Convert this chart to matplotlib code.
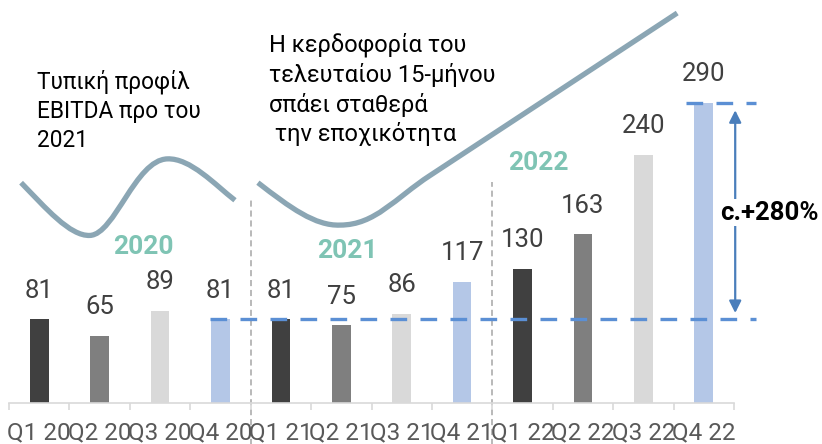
import matplotlib.pyplot as plt
from matplotlib.path import Path
from matplotlib.patches import PathPatch

plt.rcParams['font.family'] = ['Roboto', 'DejaVu Sans']

# quarterly EBITDA values
quarters = ['Q1 20', 'Q2 20', 'Q3 20', 'Q4 20',
            'Q1 21', 'Q2 21', 'Q3 21', 'Q4 21',
            'Q1 22', 'Q2 22', 'Q3 22', 'Q4 22']
ebitda = [81, 65, 89, 81, 81, 75, 86, 117, 130, 163, 240, 290]
quarter_colors = ['#404040', '#7f7f7f', '#d9d9d9', '#b4c7e7']

years = ['2020', '2021', '2022']
year_pos = [(1.72, 151), (5.10, 147), (8.26, 232)]
separators = [3.5, 7.5]

# decorative curves (data units, cubic bezier control points)
wave_2020 = [(-0.30, 213), (0.10, 189), (0.51, 161), (0.84, 162),
             (1.25, 163), (1.59, 235), (2.12, 236),
             (2.50, 237), (2.91, 211), (3.24, 196)]
wave_rise = [(3.62, 213), (4.15, 189), (4.57, 171), (4.98, 172),
             (5.56, 172), (5.89, 198), (6.47, 220)]
rise_end = (10.56, 377)

base_val = ebitda[3]
top_val = ebitda[-1]

fig = plt.figure(figsize=(8.22, 4.44), dpi=100)
ax = fig.add_axes([9/822, 41/444, 725/822, 403/444])

x = list(range(len(quarters)))
colors = [quarter_colors[i % 4] for i in x]
ax.bar(x, ebitda, width=0.31, color=colors, zorder=2)

for xi, v in zip(x, ebitda):
    ax.annotate(str(v), (xi, v), xytext=(0, 12), textcoords='offset points',
                ha='center', va='bottom', fontsize=18.5, color='#404040')

ax.set_xlim(-0.5, 11.5)
ax.set_ylim(0, 389.6)
ax.set_yticks([])
for s in ['left', 'right', 'top']:
    ax.spines[s].set_visible(False)
ax.spines['bottom'].set_color('#d9d9d9')
ax.spines['bottom'].set_linewidth(1.2)
ax.set_xticks(x)
ax.set_xticklabels(quarters, fontsize=17.5, color='#595959')
ax.set_xticks([i - 0.5 for i in range(len(quarters) + 1)], minor=True)
ax.tick_params(axis='x', which='major', length=0, pad=13)
ax.tick_params(axis='x', which='minor', length=5, color='#d9d9d9', width=1.2)

# year separators
for sx in separators:
    top = 199 if sx < 5 else 214
    ax.plot([sx, sx], [-42, top], color='#a6a6a6', lw=1.1,
            linestyle=(0, (4, 2.5)), clip_on=False, zorder=1)

for name, (yx, yy) in zip(years, year_pos):
    ax.text(yx, yy, name, ha='center', va='center', fontsize=19,
            fontweight='bold', color='#7fc4b4')

# curves
curve_color = '#8ba6b4'
codes = [Path.MOVETO] + [Path.CURVE4] * (len(wave_2020) - 1)
ax.add_patch(PathPatch(Path(wave_2020, codes), fill=False, ec=curve_color,
                       lw=3.8, capstyle='butt', clip_on=False, zorder=3))
pts = wave_rise + [rise_end]
codes = [Path.MOVETO] + [Path.CURVE4] * (len(wave_rise) - 1) + [Path.LINETO]
ax.add_patch(PathPatch(Path(pts, codes), fill=False, ec=curve_color,
                       lw=3.8, capstyle='butt', joinstyle='round',
                       clip_on=False, zorder=3))

# reference lines
blue = '#5b8fd4'
ax.plot([2.83, 11.87], [base_val, base_val], color=blue, lw=2.4,
        linestyle=(0, (5, 4)), clip_on=False, zorder=4)
ax.plot([10.71, 11.87], [top_val, top_val], color=blue, lw=2.4,
        linestyle=(0, (5, 4)), clip_on=False, zorder=4)

ax.annotate('', xy=(11.52, 283), xytext=(11.52, 87),
            arrowprops=dict(arrowstyle='<|-|>', color='#4a7ebb', lw=1.6,
                            mutation_scale=18, shrinkA=0, shrinkB=0),
            annotation_clip=False, zorder=4)
ax.text(12.08, 184, 'c.+280%', ha='center', va='center', fontsize=18.5,
        fontweight='bold', color='black', clip_on=False, zorder=5,
        bbox=dict(fc='white', ec='none', pad=1))

ax.text(-0.04, 322, 'Τυπική προφίλ\nEBITDA προ του\n2021', ha='left', va='top',
        fontsize=16.3, color='black', linespacing=1.32)
ax.text(3.81, 358, 'Η κερδοφορία του\nτελευταίου 15-μήνου\nσπάει σταθερά\n την εποχικότητα',
        ha='left', va='top', fontsize=17, color='black', linespacing=1.3)

fig.savefig('out.png', dpi=100)
